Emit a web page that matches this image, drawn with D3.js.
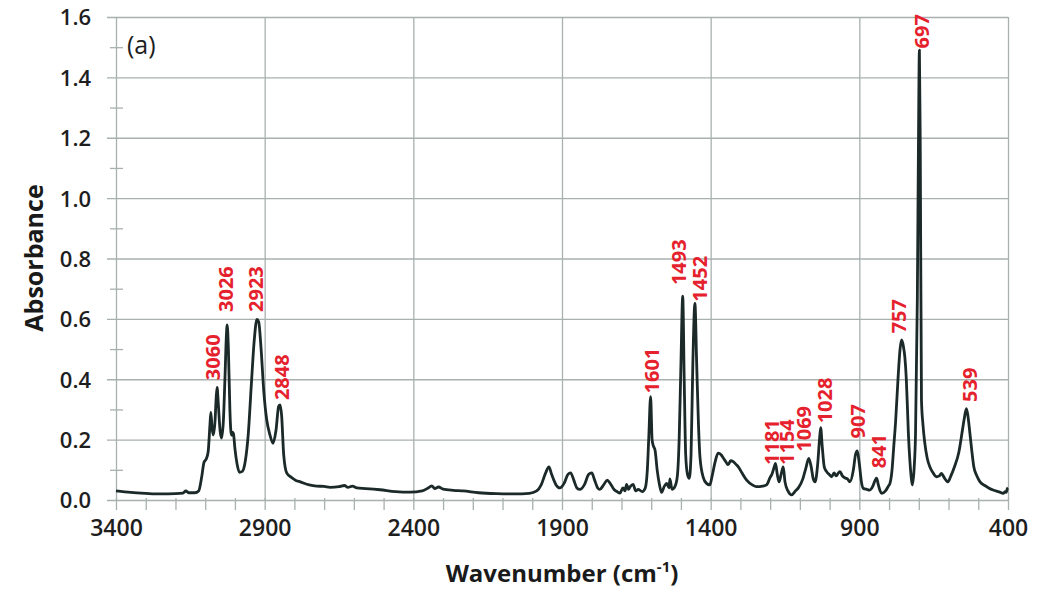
<!DOCTYPE html>
<html>
<head>
<meta charset="utf-8">
<script src="https://cdn.jsdelivr.net/npm/d3@7"></script>
<style>
  html, body { margin: 0; padding: 0; background: #fff; }
  #chart { width: 1037px; height: 593px; }
  text { font-family: "Open Sans", "DejaVu Sans", sans-serif; }
</style>
</head>
<body>
<div id="chart"></div>
<script>
// spectrum (wavenumber cm-1, absorbance)
var wavenumber = [
  3400, 3350, 3300, 3250, 3200, 3175, 3165, 3155, 3135, 3122, 3112, 3104, 3097, 3090, 3084, 3081, 3077, 3073,
  3067, 3063, 3060, 3056, 3050, 3045, 3039, 3033, 3029, 3026, 3022, 3017, 3012, 3008, 3005, 3000, 2993, 2985,
  2975, 2965, 2955, 2945, 2935, 2926, 2920, 2912, 2903, 2893, 2882, 2872, 2862, 2853, 2848, 2843, 2836, 2826,
  2810, 2795, 2780, 2750, 2725, 2700, 2680, 2650, 2632, 2620, 2605, 2590, 2560, 2512, 2460, 2411, 2370, 2350,
  2338, 2328, 2315, 2300, 2265, 2233, 2180, 2120, 2060, 2010, 1985, 1970, 1955, 1944, 1935, 1920, 1907, 1893,
  1880, 1871, 1860, 1850, 1840, 1825, 1810, 1800, 1790, 1780, 1773, 1760, 1748, 1738, 1725, 1715, 1705, 1695,
  1688, 1683, 1676, 1670, 1661, 1652, 1644, 1630, 1620, 1613, 1608, 1602, 1597, 1593, 1587, 1580, 1572, 1565,
  1556, 1548, 1540, 1537, 1530, 1520, 1512, 1506, 1500, 1494, 1489, 1484, 1478, 1472, 1466, 1460, 1453, 1447,
  1441, 1436, 1425, 1414, 1403, 1395, 1386, 1375, 1365, 1358, 1348, 1341, 1333, 1324, 1315, 1307, 1295, 1279,
  1260, 1246, 1225, 1212, 1200, 1195, 1186, 1182, 1176, 1170, 1162, 1156, 1150, 1140, 1128, 1115, 1105, 1090,
  1080, 1070, 1062, 1055, 1049, 1040, 1034, 1030, 1025, 1018, 1010, 1002, 993, 985, 978, 970, 965, 957,
  948, 940, 932, 920, 913, 907, 900, 893, 887, 875, 865, 855, 847, 842, 836, 830, 825, 812,
  803, 797, 790, 784, 778, 770, 763, 758, 752, 747, 742, 738, 735, 730, 726, 722, 716, 711,
  705, 701, 698, 695, 691, 686, 680, 672, 663, 652, 641, 631, 624, 615, 608, 602, 592, 580,
  565, 555, 547, 540, 535, 528, 522, 515, 505, 494, 478, 465, 450, 430, 416, 410, 406, 402, 400
]
var absorbance = [
  0.030, 0.025, 0.022, 0.020, 0.021, 0.023, 0.030, 0.024, 0.024, 0.030, 0.075, 0.125, 0.135, 0.160, 0.250, 0.290, 0.240, 0.215,
  0.260, 0.340, 0.373, 0.320, 0.230, 0.205, 0.260, 0.420, 0.540, 0.580, 0.500, 0.300, 0.215, 0.225, 0.220, 0.170, 0.120, 0.092,
  0.095, 0.130, 0.220, 0.380, 0.530, 0.598, 0.590, 0.500, 0.360, 0.265, 0.215, 0.188, 0.230, 0.310, 0.315, 0.280, 0.150, 0.090,
  0.075, 0.065, 0.060, 0.050, 0.046, 0.045, 0.042, 0.044, 0.048, 0.042, 0.046, 0.040, 0.038, 0.034, 0.028, 0.026, 0.030, 0.040,
  0.047, 0.038, 0.043, 0.036, 0.032, 0.030, 0.024, 0.021, 0.020, 0.022, 0.030, 0.050, 0.090, 0.110, 0.085, 0.050, 0.040, 0.055,
  0.085, 0.090, 0.065, 0.040, 0.035, 0.050, 0.085, 0.090, 0.065, 0.040, 0.035, 0.050, 0.066, 0.055, 0.035, 0.028, 0.023, 0.040,
  0.030, 0.052, 0.035, 0.045, 0.052, 0.030, 0.035, 0.028, 0.040, 0.100, 0.210, 0.342, 0.200, 0.180, 0.165, 0.100, 0.050, 0.025,
  0.045, 0.055, 0.040, 0.070, 0.035, 0.045, 0.080, 0.200, 0.450, 0.675, 0.400, 0.150, 0.085, 0.072, 0.150, 0.450, 0.651, 0.450,
  0.250, 0.143, 0.075, 0.055, 0.050, 0.080, 0.122, 0.155, 0.150, 0.140, 0.125, 0.117, 0.130, 0.127, 0.118, 0.110, 0.090, 0.066,
  0.050, 0.044, 0.046, 0.050, 0.075, 0.083, 0.110, 0.121, 0.085, 0.060, 0.090, 0.110, 0.060, 0.030, 0.017, 0.030, 0.040, 0.070,
  0.105, 0.138, 0.110, 0.070, 0.060, 0.120, 0.200, 0.240, 0.180, 0.110, 0.094, 0.085, 0.077, 0.090, 0.080, 0.090, 0.094, 0.080,
  0.073, 0.070, 0.060, 0.100, 0.150, 0.163, 0.120, 0.060, 0.039, 0.035, 0.033, 0.045, 0.065, 0.072, 0.050, 0.030, 0.022, 0.030,
  0.045, 0.055, 0.100, 0.180, 0.260, 0.400, 0.500, 0.530, 0.510, 0.474, 0.400, 0.300, 0.220, 0.130, 0.080, 0.050, 0.100, 0.220,
  0.660, 1.200, 1.490, 1.150, 0.330, 0.250, 0.190, 0.140, 0.110, 0.090, 0.077, 0.080, 0.088, 0.075, 0.065, 0.060, 0.080, 0.110,
  0.160, 0.220, 0.270, 0.303, 0.280, 0.220, 0.165, 0.110, 0.080, 0.060, 0.048, 0.040, 0.033, 0.027, 0.022, 0.028, 0.025, 0.038, 0.040
]

// peak annotations: text, wavenumber, absorbance at the foot of the label
var peakLabels = ["3060", "3026", "2923", "2848", "1601", "1493", "1452", "1181", "1154", "1069", "1028", "907", "841", "757", "697", "539"]
var peakWn = [3060, 3026, 2923, 2848, 1601, 1493, 1452, 1181, 1154, 1069, 1028, 907, 841, 757, 697, 539]
var peakFoot = [0.397, 0.623, 0.623, 0.331, 0.353, 0.712, 0.657, 0.116, 0.116, 0.160, 0.254, 0.204, 0.105, 0.552, 1.496, 0.325]
// small horizontal nudges so crowded labels do not collide (px)
var peakNudge = [-4, -1, -2, 2, 1, -4, 5, -4, 3, -5, 4, 1, 2, -3, 2, 3]

var xTicks = [3400, 2900, 2400, 1900, 1400, 900, 400]
var yTicks = [0, 0.2, 0.4, 0.6, 0.8, 1.0, 1.2, 1.4, 1.6]

var margin = { top: 17, right: 29, bottom: 93, left: 116 }
var width = 1037 - margin.left - margin.right
var height = 593 - margin.top - margin.bottom

var gridColor = "#a8b1b0"
var lineColor = "#1b2929"
var red = "#e5212d"

var svg = d3.select("#chart").append("svg")
    .attr("width", 1037)
    .attr("height", 593)

var g = svg.append("g")
    .attr("transform", "translate(" + margin.left + "," + margin.top + ")")

var x = d3.scaleLinear()
    .domain([3400, 400])
    .range([0, width])

var y = d3.scaleLinear()
    .domain([0, 1.6])
    .range([height, 0])

// minor ticks every 100 cm-1 below the axis
g.append("g")
    .attr("transform", "translate(0," + height + ")")
    .call(d3.axisBottom(x).tickValues(d3.range(3400, 399, -100)).tickSize(10).tickFormat(""))
    .call(function(a) {
        a.select(".domain").remove()
        a.selectAll("line").attr("stroke", gridColor).attr("stroke-width", 1.3).attr("y1", -2)
    })

// minor ticks every 0.1 across the left axis
g.append("g")
    .call(d3.axisLeft(y).tickValues(d3.range(0.1, 1.6, 0.2)).tickSize(6).tickFormat(""))
    .call(function(a) {
        a.select(".domain").remove()
        a.selectAll("line").attr("stroke", gridColor).attr("stroke-width", 1.3).attr("x1", 7)
    })

// horizontal grid
g.append("g")
    .call(d3.axisLeft(y).tickValues(yTicks).tickSize(-width - 9).tickPadding(25).tickFormat(d3.format(".1f")))
    .call(function(a) {
        a.select(".domain").remove()
        a.selectAll(".tick line").attr("stroke", gridColor).attr("stroke-width", 1.3).attr("transform", "translate(-9,0)")
        a.selectAll(".tick text")
            .attr("font-size", 22)
            .attr("font-weight", 600)
            .attr("fill", "#1e1e1e")
            .attr("dy", "0.36em")
    })

// vertical grid
g.append("g")
    .attr("transform", "translate(0," + height + ")")
    .call(d3.axisBottom(x).tickValues(xTicks).tickSize(-height).tickPadding(20).tickFormat(d3.format("d")))
    .call(function(a) {
        a.select(".domain").remove()
        a.selectAll(".tick line").attr("stroke", gridColor).attr("stroke-width", 1.3)
        a.selectAll(".tick text")
            .attr("font-size", 23)
            .attr("font-weight", 600)
            .attr("fill", "#1e1e1e")
    })

// spectrum
var line = d3.line()
    .x(function(d, i) { return x(wavenumber[i]) })
    .y(function(d) { return y(d) })
    .curve(d3.curveMonotoneX)

g.append("path")
    .datum(absorbance)
    .attr("fill", "none")
    .attr("stroke", lineColor)
    .attr("stroke-width", 2.8)
    .attr("stroke-linejoin", "round")
    .attr("d", line)

// peak labels
g.selectAll(".peak")
    .data(peakLabels)
    .enter().append("text")
    .attr("class", "peak")
    .attr("transform", function(d, i) {
        return "translate(" + (x(peakWn[i]) + peakNudge[i]) + "," + y(peakFoot[i]) + ") rotate(-90)"
    })
    .attr("dy", "0.36em")
    .attr("fill", red)
    .attr("font-size", 20)
    .attr("font-weight", 700)
    .text(function(d) { return d })

g.append("text")
    .attr("x", 11)
    .attr("y", 37)
    .attr("font-size", 25)
    .attr("fill", "#1e1e1e")
    .text("(a)")

// axis titles
svg.append("text")
    .attr("transform", "translate(" + 43 + "," + 258 + ") rotate(-90)")
    .style("text-anchor", "middle")
    .attr("font-size", 25)
    .attr("font-weight", 700)
    .attr("fill", "#1a1a1a")
    .text("Absorbance")

var xt = svg.append("text")
    .attr("x", 562)
    .attr("y", 582)
    .style("text-anchor", "middle")
    .attr("font-size", 24)
    .attr("font-weight", 700)
    .attr("fill", "#1a1a1a")
xt.append("tspan").text("Wavenumber (cm")
xt.append("tspan").attr("font-size", 15).attr("dy", -10).text("-1")
xt.append("tspan").attr("dy", 10).text(")")
</script>
</body>
</html>
